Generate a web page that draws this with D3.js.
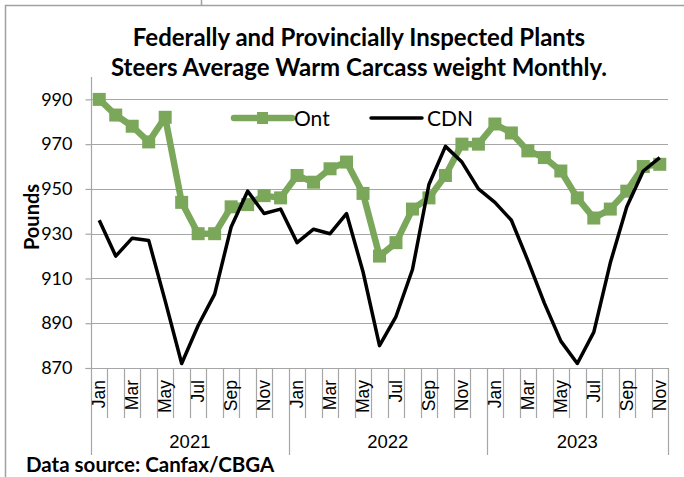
<!DOCTYPE html>
<html>
<head>
<meta charset="utf-8">
<script src="https://cdn.jsdelivr.net/npm/d3@7"></script>
<style>
  html, body { margin: 0; padding: 0; background: #fff; }
  svg { display: block; font-family: Lato, "Open Sans", sans-serif; }
</style>
</head>
<body>
<div id="chart"></div>
<script>
// ---- Data ----
const years = ["2021", "2022", "2023"];
const monthNames = ["Jan","Feb","Mar","Apr","May","Jun","Jul","Aug","Sep","Oct","Nov","Dec"];
const monthsPerYear = [12, 12, 11];
const ontValues = [990, 983, 978, 971, 982, 944, 930, 930, 942, 943, 947, 946,
                   956, 953, 959, 962, 948, 920, 926, 941, 946, 956, 970, 970,
                   979, 975, 967, 964, 958, 946, 937, 941, 949, 960, 961];
const cdnValues = [936, 920, 928, 927, 900, 872, 889, 903, 933, 949, 939, 941,
                   926, 932, 930, 939, 913, 880, 893, 914, 952, 969, 962, 950,
                   944, 936, 918, 899, 882, 872, 886, 917, 942, 958, 964];
const yTicks = [870, 890, 910, 930, 950, 970, 990];
const titleLines = ["Federally and Provincially Inspected Plants",
                    "Steers Average Warm Carcass weight Monthly."];
const seriesNames = ["Ont", "CDN"];
const sourceText = "Data source: Canfax/CBGA";

// categories built from years/months
const categories = [];
years.forEach((y, yi) => {
  for (let m = 0; m < monthsPerYear[yi]; m++) categories.push({ key: y + "-" + monthNames[m], year: y, month: monthNames[m], m });
});

const W = 684, H = 477;
const plot = { left: 91, right: 668, top: 77, bottom: 368 };
const green = "#7BA75B";
const grid = "#A6A6A6";
const armFont = "'Liberation Sans', Arial, sans-serif";

const svg = d3.select("#chart").append("svg").attr("width", W).attr("height", H);

// frame
svg.append("path")
  .attr("d", `M5.5,${H} V5.5 H${W}`)
  .attr("fill", "none").attr("stroke", "#A0A0A0").attr("stroke-width", 1.5);
svg.append("line").attr("x1", 201.5).attr("x2", 201.5).attr("y1", 0).attr("y2", 5)
  .attr("stroke", "#A0A0A0").attr("stroke-width", 1.5);

const x = d3.scaleBand().domain(categories.map(d => d.key)).range([plot.left, plot.right]).padding(0);
const y = d3.scaleLinear().domain([870, 1000]).range([plot.bottom, plot.top]);
const cx = k => x(k) + x.bandwidth() / 2;

// title
svg.append("g").selectAll("text").data(titleLines).join("text")
  .attr("x", 359).attr("y", (d, i) => 46 + i * 30)
  .attr("text-anchor", "middle").attr("font-weight", "bold").attr("font-size", 24)
  .attr("fill", "#000").text(d => d);

// gridlines
svg.append("g").selectAll("line").data(yTicks.filter(t => t > 870)).join("line")
  .attr("x1", plot.left).attr("x2", plot.right)
  .attr("y1", d => Math.round(y(d)) + 0.5).attr("y2", d => Math.round(y(d)) + 0.5)
  .attr("stroke", grid).attr("stroke-width", 1.2);

// y axis
const yAxis = d3.axisLeft(y).tickValues(yTicks).tickSize(6).tickPadding(13).tickFormat(d3.format("d"));
const gy = svg.append("g").attr("transform", `translate(${plot.left + 0.5},0)`).call(yAxis);
gy.select(".domain").attr("stroke", grid).attr("stroke-width", 1.2).attr("d", `M-6,${plot.bottom + 0.5}H0V${plot.top}`);
gy.selectAll(".tick line").attr("stroke", grid).attr("stroke-width", 1.2);
gy.selectAll(".tick text").attr("font-size", 18).attr("fill", "#000").attr("font-family", "Lato, sans-serif");

// y label
svg.append("text").attr("transform", "translate(39,217) rotate(-90)")
  .attr("text-anchor", "middle").attr("font-weight", "bold").attr("font-size", 20).text("Pounds");

// x axis baseline
svg.append("line").attr("x1", plot.left).attr("x2", plot.right)
  .attr("y1", plot.bottom + 0.5).attr("y2", plot.bottom + 0.5)
  .attr("stroke", grid).attr("stroke-width", 1.2);

// category tick marks (boundaries)
const boundaries = categories.map(d => x(d.key)).concat([plot.right]);
svg.append("g").selectAll("line").data(boundaries).join("line")
  .attr("x1", d => Math.round(d) + 0.5).attr("x2", d => Math.round(d) + 0.5)
  .attr("y1", plot.bottom).attr("y2", 418)
  .attr("stroke", grid).attr("stroke-width", 1.2);

// month labels (every other)
svg.append("g").selectAll("text").data(categories.filter(d => d.m % 2 === 0)).join("text")
  .attr("transform", d => `translate(${cx(d.key) + 6},380) rotate(-90)`)
  .attr("text-anchor", "end").attr("font-size", 17.5).attr("font-family", armFont)
  .attr("fill", "#000").text(d => d.month);

// year group dividers and labels
const yearStarts = [];
let idx = 0;
years.forEach((yr, i) => { yearStarts.push({ yr, start: categories[idx].key, end: categories[idx + monthsPerYear[i] - 1].key }); idx += monthsPerYear[i]; });
const dividers = yearStarts.map(d => x(d.start)).concat([plot.right]);
svg.append("g").selectAll("line").data(dividers).join("line")
  .attr("x1", d => Math.round(d) + 0.5).attr("x2", d => Math.round(d) + 0.5)
  .attr("y1", 418).attr("y2", 455)
  .attr("stroke", grid).attr("stroke-width", 1.2);
svg.append("g").selectAll("text").data(yearStarts).join("text")
  .attr("x", d => (x(d.start) + x(d.end) + x.bandwidth()) / 2).attr("y", 448)
  .attr("text-anchor", "middle").attr("font-size", 18.5).attr("font-family", armFont)
  .attr("fill", "#000").text(d => d.yr);

// lines
const ontData = categories.map((c, i) => ({ k: c.key, v: ontValues[i] }));
const cdnData = categories.map((c, i) => ({ k: c.key, v: cdnValues[i] }));
const line = d3.line().x(d => cx(d.k)).y(d => y(d.v));

svg.append("path").datum(ontData).attr("d", line)
  .attr("fill", "none").attr("stroke", green).attr("stroke-width", 6.5).attr("stroke-linejoin", "round");
svg.append("g").selectAll("rect").data(ontData).join("rect")
  .attr("x", d => cx(d.k) - 6.5).attr("y", d => y(d.v) - 6.5)
  .attr("width", 13).attr("height", 13).attr("fill", green);

svg.append("path").datum(cdnData).attr("d", line)
  .attr("fill", "none").attr("stroke", "#000").attr("stroke-width", 3.5).attr("stroke-linejoin", "round");

// legend
const lg = svg.append("g");
lg.append("line").attr("x1", 234).attr("x2", 292).attr("y1", 118).attr("y2", 118)
  .attr("stroke", green).attr("stroke-width", 6.5).attr("stroke-linecap", "round");
lg.append("rect").attr("x", 257).attr("y", 112).attr("width", 11).attr("height", 12).attr("fill", green);
lg.append("text").attr("x", 294).attr("y", 126).attr("font-size", 21).text(seriesNames[0]);
lg.append("line").attr("x1", 371).attr("x2", 422).attr("y1", 118).attr("y2", 118)
  .attr("stroke", "#000").attr("stroke-width", 3.5).attr("stroke-linecap", "round");
lg.append("text").attr("x", 427).attr("y", 126).attr("font-size", 21).text(seriesNames[1]);

// source
svg.append("text").attr("x", 26).attr("y", 472).attr("font-weight", "bold").attr("font-size", 20.5).text(sourceText);
</script>
</body>
</html>
